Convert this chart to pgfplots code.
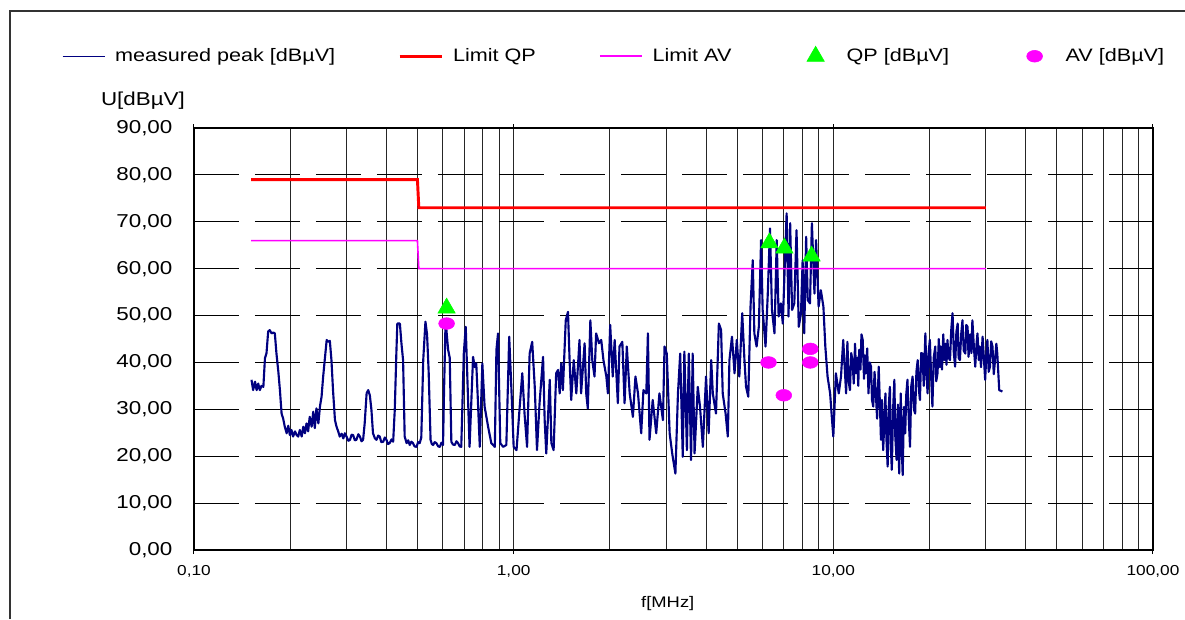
\documentclass[border=0pt]{standalone}
\usepackage{fontspec}
\setmainfont{Liberation Sans}[FakeStretch=1.2]
\usepackage{pgfplots}
\pgfplotsset{compat=1.18}
\usepackage{pgfplotstable}
\definecolor{navy}{RGB}{0,0,128}
\definecolor{limqp}{RGB}{255,0,0}
\definecolor{limav}{RGB}{255,0,255}
\definecolor{qpgreen}{RGB}{0,255,0}

% measured peak: logf = log10(f/MHz), v = level in dBuV
\pgfplotstableread{
logf v
-0.820 36.3
-0.815 34.1
-0.809 35.9
-0.804 34.1
-0.799 35.5
-0.794 34.1
-0.789 35.0
-0.783 34.8
-0.778 40.9
-0.773 42.0
-0.768 46.6
-0.763 46.9
-0.757 46.2
-0.752 46.4
-0.747 46.2
-0.742 41.9
-0.736 38.0
-0.731 34.1
-0.726 29.1
-0.721 28.0
-0.716 26.3
-0.710 24.9
-0.705 26.5
-0.700 24.5
-0.695 25.6
-0.690 24.2
-0.684 25.3
-0.679 24.5
-0.674 24.2
-0.669 25.6
-0.663 24.2
-0.658 26.3
-0.653 24.9
-0.648 27.0
-0.643 25.3
-0.638 28.4
-0.632 26.3
-0.627 29.5
-0.622 26.0
-0.617 30.2
-0.611 27.0
-0.606 30.6
-0.601 32.7
-0.596 37.0
-0.591 40.5
-0.585 44.8
-0.580 44.4
-0.575 44.6
-0.570 40.5
-0.565 34.0
-0.559 27.7
-0.554 26.3
-0.549 25.3
-0.544 24.2
-0.538 24.8
-0.533 23.8
-0.528 24.9
-0.523 24.2
-0.517 23.3
-0.512 23.5
-0.507 24.6
-0.502 24.5
-0.497 23.4
-0.492 23.5
-0.486 24.7
-0.481 24.2
-0.476 23.2
-0.471 23.5
-0.466 27.0
-0.460 33.4
-0.455 34.1
-0.450 33.0
-0.445 29.9
-0.440 24.9
-0.434 23.8
-0.429 23.5
-0.424 24.4
-0.419 24.2
-0.414 23.0
-0.408 23.1
-0.403 24.0
-0.398 23.5
-0.393 22.6
-0.388 22.8
-0.382 23.6
-0.377 23.1
-0.372 29.9
-0.367 42.0
-0.364 48.3
-0.356 48.3
-0.351 44.0
-0.346 40.5
-0.341 24.2
-0.335 22.8
-0.330 23.4
-0.325 22.4
-0.320 23.1
-0.315 22.8
-0.310 22.1
-0.304 22.0
-0.299 23.0
-0.294 22.8
-0.289 24.0
-0.283 40.5
-0.276 48.7
-0.271 46.0
-0.266 38.0
-0.260 23.5
-0.256 22.6
-0.252 22.4
-0.247 23.0
-0.242 22.8
-0.236 22.1
-0.231 22.0
-0.226 22.9
-0.221 22.4
-0.218 33.4
-0.213 49.0
-0.208 45.0
-0.205 42.7
-0.200 41.0
-0.195 23.1
-0.190 22.5
-0.184 22.4
-0.179 23.2
-0.174 22.8
-0.169 22.1
-0.164 22.0
-0.156 41.9
-0.150 47.6
-0.143 32.7
-0.138 22.0
-0.127 41.2
-0.122 39.0
-0.117 39.8
-0.112 32.0
-0.106 22.0
-0.098 39.8
-0.091 30.6
-0.080 26.3
-0.070 22.8
-0.059 22.0
-0.054 42.7
-0.049 46.2
-0.042 22.8
-0.033 22.0
-0.023 22.4
-0.014 45.5
-0.007 34.1
0.000 22.0
0.009 21.3
0.019 30.6
0.027 37.7
0.034 29.1
0.042 22.0
0.050 41.9
0.058 44.4
0.066 34.8
0.073 21.3
0.081 31.3
0.092 41.2
0.097 27.7
0.102 20.6
0.113 36.3
0.118 22.8
0.125 21.3
0.133 37.7
0.139 38.4
0.144 33.4
0.149 39.8
0.154 34.1
0.163 49.0
0.170 50.8
0.175 40.5
0.180 32.0
0.188 40.5
0.196 33.4
0.206 44.8
0.211 33.4
0.222 44.1
0.227 33.4
0.232 30.2
0.240 49.0
0.246 40.5
0.253 37.0
0.258 46.2
0.267 44.1
0.274 44.8
0.281 40.5
0.290 37.0
0.295 33.4
0.302 48.0
0.310 37.0
0.316 44.8
0.326 31.3
0.331 43.4
0.340 44.4
0.347 31.3
0.354 43.4
0.363 33.4
0.373 28.4
0.381 37.0
0.389 33.4
0.399 24.9
0.406 34.1
0.415 33.4
0.420 46.2
0.425 23.5
0.435 32.0
0.446 24.9
0.456 33.4
0.467 27.7
0.472 43.4
0.479 41.9
0.488 24.9
0.496 20.6
0.506 16.3
0.514 33.4
0.521 41.9
0.529 19.9
0.534 42.3
0.542 21.3
0.548 41.9
0.555 19.2
0.560 41.9
0.566 20.6
0.576 34.8
0.583 30.6
0.592 22.0
0.602 37.0
0.610 24.9
0.618 40.5
0.623 33.4
0.633 29.1
0.642 48.3
0.649 46.9
0.654 33.4
0.663 29.1
0.670 24.2
0.675 40.5
0.683 45.5
0.691 37.7
0.698 44.8
0.706 37.0
0.715 50.5
0.722 40.5
0.727 34.8
0.734 32.7
0.741 51.9
0.748 61.8
0.753 46.2
0.760 43.4
0.767 47.6
0.774 66.1
0.779 51.2
0.788 43.4
0.795 54.7
0.802 68.6
0.808 51.2
0.816 46.2
0.823 66.1
0.829 49.8
0.836 52.6
0.842 48.3
0.847 58.3
0.854 71.8
0.860 49.8
0.865 69.7
0.871 51.2
0.878 52.6
0.885 68.2
0.892 47.6
0.899 50.5
0.904 61.8
0.909 46.2
0.915 66.8
0.920 53.3
0.927 52.6
0.933 69.7
0.941 54.7
0.946 66.1
0.954 51.9
0.961 55.4
0.969 51.9
0.975 43.4
0.982 37.0
0.990 33.4
0.996 27.7
1.000 24.2
1.008 37.7
1.017 33.4
1.024 37.0
1.031 44.8
1.040 33.4
1.044 44.4
1.048 36.0
1.052 34.1
1.056 42.0
1.060 40.5
1.064 35.5
1.068 44.0
1.071 37.7
1.075 41.0
1.078 35.0
1.081 42.7
1.085 38.5
1.088 46.0
1.092 44.8
1.096 36.5
1.099 41.5
1.102 37.7
1.106 43.0
1.110 33.4
1.114 40.0
1.118 39.1
1.121 32.0
1.125 30.6
1.129 38.0
1.133 33.4
1.137 28.0
1.142 39.1
1.146 30.5
1.149 23.5
1.152 32.0
1.156 21.3
1.160 28.0
1.163 33.4
1.166 24.0
1.170 17.8
1.173 30.0
1.177 34.8
1.180 22.0
1.183 17.1
1.187 30.0
1.191 36.3
1.194 24.0
1.198 19.2
1.202 31.0
1.206 16.3
1.209 27.0
1.211 33.4
1.214 22.0
1.217 16.0
1.221 30.5
1.225 24.9
1.228 33.0
1.232 36.3
1.236 28.0
1.240 22.0
1.244 35.0
1.248 37.0
1.252 30.0
1.256 29.1
1.260 38.0
1.264 40.5
1.268 34.0
1.271 32.0
1.275 42.0
1.279 41.9
1.283 35.0
1.288 46.2
1.291 38.0
1.295 33.4
1.298 42.0
1.302 44.8
1.306 37.0
1.310 30.6
1.314 41.0
1.319 43.4
1.322 36.0
1.326 37.7
1.330 45.0
1.333 39.0
1.336 43.4
1.340 38.5
1.344 46.0
1.347 40.5
1.351 44.0
1.354 39.5
1.357 44.8
1.361 41.0
1.365 40.5
1.369 47.0
1.373 50.5
1.377 42.0
1.381 39.1
1.385 46.5
1.389 48.3
1.392 41.0
1.396 40.5
1.400 46.0
1.404 49.0
1.408 42.5
1.413 41.9
1.416 48.0
1.420 47.6
1.423 41.2
1.428 46.0
1.432 42.0
1.435 49.0
1.440 43.0
1.444 39.1
1.448 44.0
1.451 46.2
1.455 40.5
1.458 43.4
1.462 39.0
1.467 45.5
1.471 41.0
1.475 36.3
1.479 42.0
1.482 44.8
1.486 38.0
1.490 39.1
1.494 44.5
1.498 43.4
1.502 37.5
1.506 40.5
1.510 44.0
1.513 41.9
1.516 38.0
1.519 34.1
1.529 33.8
}\peak

\begin{document}
\begin{tikzpicture}
\useasboundingbox (0pt,0pt) rectangle (888.75pt,-464.25pt);
\begin{axis}[
  at={(145.5pt,-412.5pt)}, anchor=south west,
  scale only axis, width=719.25pt, height=316.5pt,
  xmode=log, xmin=0.1, xmax=100, ymin=0, ymax=90,
  xtick={0.1,1,10,100},
  xticklabels={{0,10},{1,00},{10,00},{100,00}},
  minor xtick={0.2,0.3,0.4,0.5,0.6,0.7,0.8,0.9,2,3,4,5,6,7,8,9,20,30,40,50,60,70,80,90},
  ytick={0,10,20,30,40,50,60,70,80,90},
  yticklabels={{0,00},{10,00},{20,00},{30,00},{40,00},{50,00},{60,00},{70,00},{80,00},{90,00}},
  xmajorgrids, xminorgrids, ymajorgrids,
  major x grid style={black!85, line width=0.6pt},
  minor x grid style={black!85, line width=0.6pt},
  major y grid style={black, line width=0.75pt, dash pattern=on 33.75pt off 12pt},
  axis line style={line width=1pt},
  tick align=outside, major tick length=3pt, minor tick length=0pt,
  xtick style={black, line width=0.75pt}, ytick style={draw=none},
  x tick label style={font=\fontsize{10.8}{12}\selectfont, inner sep=0pt},
  y tick label style={font=\fontsize{14}{16}\selectfont, inner sep=0pt},
  xticklabel shift=8pt,
  yticklabel shift=13pt,
  xlabel={f[MHz]},
  xlabel style={font=\fontsize{11.5}{13}\selectfont, at={(axis description cs:0.494,-0.128)}, anchor=center},
  ylabel={U[dBµV]},
  ylabel style={font=\fontsize{14}{16}\selectfont, rotate=-90, at={(axis description cs:-0.0532,1.066)}, anchor=center},
  legend columns=5,
  legend cell align=left,
  legend style={draw=none, fill=none, inner sep=0pt, outer sep=0pt,
    at={(axis description cs:-0.1376,1.173)}, anchor=west,
    font=\fontsize{13.5}{16}\selectfont, nodes={inner sep=0pt},
    /tikz/every odd column/.append style={column sep=7.5pt}},
  legend image code/.code={\path[draw=none, fill=none] (0pt,0pt) -- (31.5pt,0pt);
    \draw[mark repeat=2,mark phase=2,#1] plot coordinates {(0pt,0pt) (15.75pt,0pt) (31.5pt,0pt)};},
]
\addplot[navy, line width=1.6pt, line join=round, legend image post style={line width=0.8pt}]
  table[x expr={10^(\thisrow{logf})}, y=v] {\peak};
\addlegendentry{\makebox[212.25pt][l]{measured peak [dBµV]}}
\addplot[limqp, line width=2.2pt] coordinates {(0.151,79) (0.5,79) (0.505,73) (30,73)};
\addlegendentry{\makebox[109.5pt][l]{Limit QP}}
\addplot[limav, line width=1.2pt] coordinates {(0.151,66) (0.5,66) (0.505,60) (30,60)};
\addlegendentry{\makebox[106.5pt][l]{Limit AV}}
\addplot[only marks, mark=triangle*, mark size=7.5pt, mark options={draw=qpgreen, fill=qpgreen}]
  coordinates {(0.617,51.6) (6.31,65.5) (7.03,64.4) (8.55,62.7)};
\addlegendentry{\makebox[125.25pt][l]{QP [dBµV]}}
\addplot[only marks, mark=*, mark size=4.4pt, mark options={draw=limav, fill=limav, xscale=1.35}]
  coordinates {(0.617,48.3) (6.27,40.0) (7.0,33.0) (8.47,42.9) (8.47,40.0)};
\addlegendentry{AV [dBµV]}
\end{axis}
\draw[line width=1pt, black!80] (7.5pt,-464.25pt) -- (7.5pt,-8.25pt) -- (888.75pt,-8.25pt);
\end{tikzpicture}
\end{document}
